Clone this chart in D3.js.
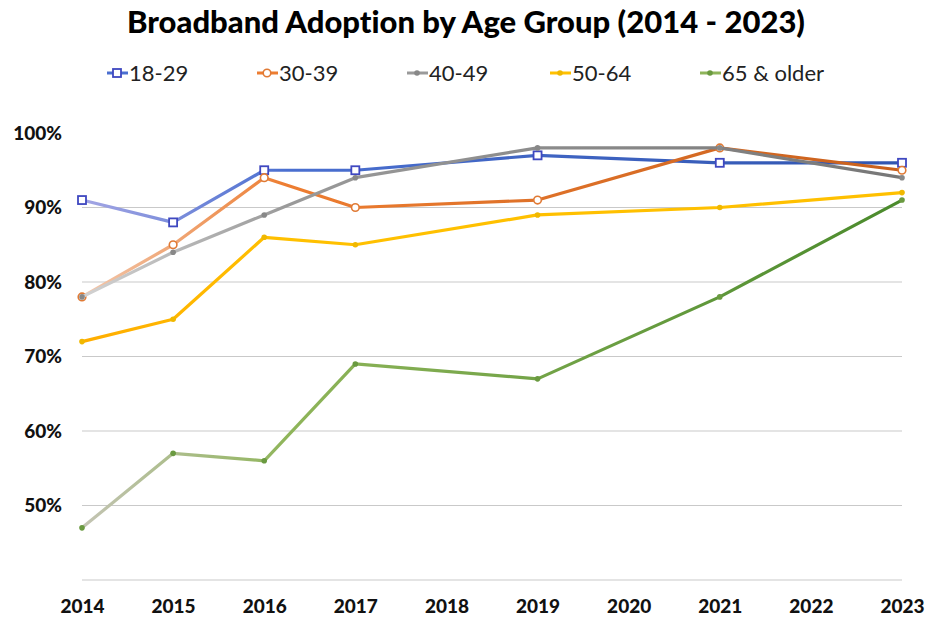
<!DOCTYPE html>
<html>
<head>
<meta charset="utf-8">
<script src="https://cdn.jsdelivr.net/npm/d3@7"></script>
<style>
  body { margin: 0; background: #fff; }
  svg { display: block; font-family: Lato, "Open Sans", sans-serif; font-variant-ligatures: none; }
</style>
</head>
<body>
<svg id="chart" width="929" height="619"></svg>
<script>
// data (percent)
const years = [2014, 2015, 2016, 2017, 2019, 2021, 2023];
const axisYears = [2014, 2015, 2016, 2017, 2018, 2019, 2020, 2021, 2022, 2023];
const yTicks = [50, 60, 70, 80, 90, 100];
const gridValues = [40, 50, 60, 70, 80, 90];

const age18to29 = [91, 88, 95, 95, 97, 96, 96];
const age30to39 = [78, 85, 94, 90, 91, 98, 95];
const age40to49 = [78, 84, 89, 94, 98, 98, 94];
const age50to64 = [72, 75, 86, 85, 89, 90, 92];
const age65plus = [47, 57, 56, 69, 67, 78, 91];

const seriesNames = ['18-29', '30-39', '40-49', '50-64', '65 & older'];
const seriesValues = [age18to29, age30to39, age40to49, age50to64, age65plus];

// gradient stops (left -> right) and marker style per series
const styles = [
  { stops: ['#a4a6e4', '#4a6fd0', '#3055b0'], marker: 'square', markerStroke: '#3f48c0' },
  { stops: ['#f2c8ae', '#ed7d31', '#c9601c'], marker: 'circle', markerStroke: '#e07a35' },
  { stops: ['#d2d2d2', '#9a9a9a', '#777777'], marker: 'dot', markerStroke: '#888' },
  { stops: ['#ffad00', '#ffc000', '#ffc000'], marker: 'dot', markerStroke: '#f0b800' },
  { stops: ['#c4c4b4', '#8fb55a', '#4a8a2c'], marker: 'dot', markerStroke: '#6a9a40' }
];

const svg = d3.select('#chart');

const x = d3.scaleLinear().domain([2014, 2023]).range([82, 902]);
const y = d3.scaleLinear().domain([40, 100]).range([580, 133]);

// title
svg.append('text')
  .attr('x', 466).attr('y', 33)
  .attr('text-anchor', 'middle')
  .style('font-size', '31px').style('font-weight', '900')
  .text('Broadband Adoption by Age Group (2014 - 2023)');

// gridlines
svg.append('g').selectAll('line')
  .data(gridValues).enter()
  .append('line')
  .attr('x1', x(2014)).attr('x2', x(2023))
  .attr('y1', d => y(d)).attr('y2', d => y(d))
  .attr('stroke', '#c9c9c9').attr('stroke-width', 1.2);

// y axis
const yAxis = svg.append('g')
  .attr('transform', 'translate(62,0)')
  .call(d3.axisLeft(y).tickValues(yTicks).tickSize(0).tickFormat(d => d + '%'));
yAxis.select('.domain').remove();
yAxis.selectAll('text')
  .attr('x', 0)
  .style('font-family', 'Lato, sans-serif')
  .style('font-size', '19px').style('font-weight', '900').attr('fill', '#111');

// x axis
const xAxis = svg.append('g')
  .attr('transform', 'translate(0,596)')
  .call(d3.axisBottom(x).tickValues(axisYears).tickSize(0).tickFormat(d3.format('d')));
xAxis.select('.domain').remove();
xAxis.selectAll('text')
  .style('font-family', 'Lato, sans-serif')
  .style('font-size', '19px').style('font-weight', '900').attr('fill', '#111');

// gradients
const defs = svg.append('defs');
styles.forEach((s, i) => {
  const g = defs.append('linearGradient')
    .attr('id', 'grad' + i)
    .attr('gradientUnits', 'userSpaceOnUse')
    .attr('x1', x(2014)).attr('x2', x(2023))
    .attr('y1', 0).attr('y2', 0);
  g.append('stop').attr('offset', '0%').attr('stop-color', s.stops[0]);
  g.append('stop').attr('offset', '25%').attr('stop-color', s.stops[1]);
  g.append('stop').attr('offset', '100%').attr('stop-color', s.stops[2]);
});

const line = d3.line()
  .x((d, i) => x(years[i]))
  .y(d => y(d));

seriesValues.forEach((vals, i) => {
  const s = styles[i];
  const g = svg.append('g');
  g.append('path')
    .datum(vals)
    .attr('d', line)
    .attr('fill', 'none')
    .attr('stroke', 'url(#grad' + i + ')')
    .attr('stroke-width', 3.2)
    .attr('stroke-linejoin', 'round');

  const pts = g.selectAll('.pt').data(vals).enter();
  if (s.marker === 'square') {
    pts.append('rect')
      .attr('x', (d, j) => x(years[j]) - 4)
      .attr('y', d => y(d) - 4)
      .attr('width', 8).attr('height', 8)
      .attr('fill', '#fff').attr('stroke', s.markerStroke).attr('stroke-width', 1.8);
  } else if (s.marker === 'circle') {
    pts.append('circle')
      .attr('cx', (d, j) => x(years[j]))
      .attr('cy', d => y(d))
      .attr('r', 3.8)
      .attr('fill', '#fff').attr('stroke', s.markerStroke).attr('stroke-width', 1.6);
  } else {
    pts.append('circle')
      .attr('cx', (d, j) => x(years[j]))
      .attr('cy', d => y(d))
      .attr('r', 2.8)
      .attr('fill', s.markerStroke);
  }
});

// legend
const legendX = [107, 257, 407, 550, 700];
const legend = svg.append('g');
seriesNames.forEach((name, i) => {
  const s = styles[i];
  const lg = legend.append('g').attr('transform', `translate(${legendX[i]},73)`);
  lg.append('line')
    .attr('x1', 0).attr('x2', 21).attr('y1', 0).attr('y2', 0)
    .attr('stroke', s.stops[1]).attr('stroke-width', 3);
  if (s.marker === 'square') {
    lg.append('rect').attr('x', 6).attr('y', -4).attr('width', 8).attr('height', 8)
      .attr('fill', '#fff').attr('stroke', s.markerStroke).attr('stroke-width', 1.8);
  } else if (s.marker === 'circle') {
    lg.append('circle').attr('cx', 10).attr('cy', 0).attr('r', 3.8)
      .attr('fill', '#fff').attr('stroke', s.markerStroke).attr('stroke-width', 1.6);
  } else {
    lg.append('circle').attr('cx', 10).attr('cy', 0).attr('r', 2.8).attr('fill', s.markerStroke);
  }
  lg.append('text')
    .attr('x', 22).attr('y', 7.5)
    .style('font-size', '22px').attr('fill', '#222')
    .text(name);
});
</script>
</body>
</html>
